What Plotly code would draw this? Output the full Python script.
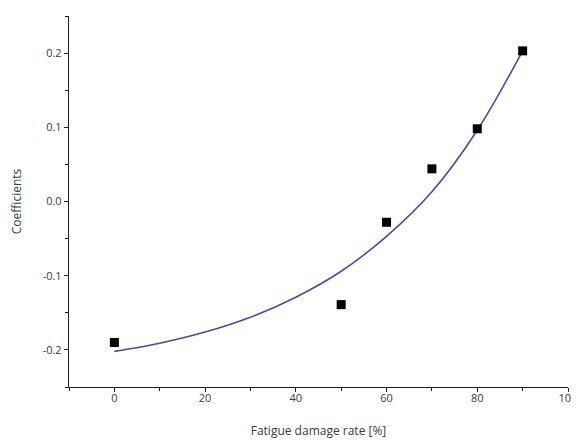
import plotly.graph_objects as go

# measured points
damage_rate = [0, 50, 60, 70, 80, 90]
coefficients = [-0.190, -0.139, -0.028, 0.044, 0.098, 0.203]

# fitted curve
fit_x = [0, 10, 20, 30, 40, 50, 60, 70, 80, 90]
fit_y = [-0.202, -0.191, -0.176, -0.156, -0.129, -0.094, -0.047, 0.013, 0.096, 0.203]

x_ticks = [0, 20, 40, 60, 80, 100]
y_ticks = [-0.2, -0.1, 0.0, 0.1, 0.2]
y_tick_text = ["-0.2", "-0.1", "0.0", "0.1", "0.2"]

fig = go.Figure()
fig.add_trace(go.Scatter(
    x=fit_x, y=fit_y, mode="lines",
    line=dict(color="#4a4aa8", width=1.6, shape="spline", smoothing=1.0),
    showlegend=False, hoverinfo="skip"))
fig.add_trace(go.Scatter(
    x=damage_rate, y=coefficients, mode="markers",
    marker=dict(symbol="square", size=9, color="black"),
    showlegend=False))

fam = "Open Sans, Noto Sans, sans-serif"
axis_font = dict(family=fam, size=11, color="#3a3a3a")
title_font = dict(family=fam, size=12, color="#3a3a3a")
fig.update_layout(
    width=571, height=432,
    margin=dict(l=61, r=11, t=8, b=53),
    paper_bgcolor="white", plot_bgcolor="white",
    font=axis_font,
    xaxis=dict(
        range=[-10, 100], tickvals=x_ticks, showgrid=False, zeroline=False,
        showline=True, linecolor="#222222", linewidth=1.3, automargin=False,
        ticks="outside", ticklen=4, tickcolor="#222222", tickwidth=1.2,
        tickfont=axis_font, ticklabelstandoff=-3, ticklabeloverflow="allow",
        minor=dict(ticks="outside", ticklen=3, tick0=-10, dtick=20, tickcolor="#222222", showgrid=False),
        title=dict(text="Fatigue damage rate [%]", font=title_font, standoff=22),
    ),
    yaxis=dict(
        range=[-0.25, 0.25], tickvals=y_ticks, ticktext=y_tick_text, showgrid=False, zeroline=False,
        showline=True, linecolor="#222222", linewidth=1.3, automargin=False,
        ticks="outside", ticklen=4, tickcolor="#222222", tickwidth=1.2,
        tickfont=axis_font,
        minor=dict(ticks="outside", ticklen=3, tick0=-0.25, dtick=0.1, tickcolor="#222222", showgrid=False),
        title=dict(text="Coefficients", font=title_font, standoff=21),
    ),
)

fig.write_html("out.html")
